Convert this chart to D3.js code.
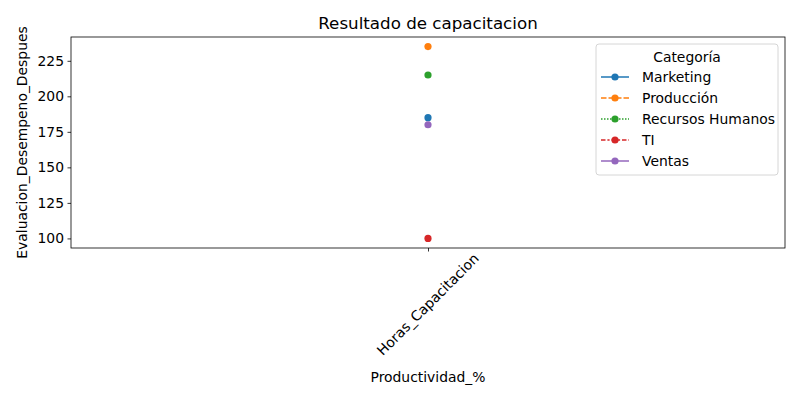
<!DOCTYPE html>
<html>
<head>
<meta charset="utf-8">
<script src="https://cdn.jsdelivr.net/npm/d3@7"></script>
<style>
  body { margin: 0; background: #fff; }
  svg text { font-family: "DejaVu Sans", sans-serif; fill: #000; }
</style>
</head>
<body>
<div id="chart"></div>
<script>
// data
const categories = ["Marketing", "Producción", "Recursos Humanos", "TI", "Ventas"];
const xLabels = ["Horas_Capacitacion"];
const values = [185, 235, 215, 100, 180];
const yTicks = [100, 125, 150, 175, 200, 225];
const colors = ["#1f77b4", "#ff7f0e", "#2ca02c", "#d62728", "#9467bd"];
const dashes = ["", "5.5,2", "1.5,1.5", "4.5,1.9,2.2,1.9", ""];

const W = 800, H = 400;
const margin = {top: 37, right: 15, bottom: 152, left: 71};
const width = W - margin.left - margin.right,
      height = H - margin.top - margin.bottom;

const svg = d3.select("#chart").append("svg")
  .attr("width", W).attr("height", H);

const g = svg.append("g")
  .attr("transform", "translate(" + margin.left + "," + margin.top + ")");

// one category on x, sits in the middle
const x = d3.scalePoint().domain(xLabels).range([0, width]).padding(0.5);

const yMin = d3.min(values), yMax = d3.max(values);
const pad = (yMax - yMin) * 0.05;
const y = d3.scaleLinear().domain([yMin - pad, yMax + pad]).range([height, 0]);

// points
g.selectAll("circle.pt")
  .data(values)
  .enter()
  .append("circle")
  .attr("class", "pt")
  .attr("cx", x(xLabels[0]))
  .attr("cy", function(d) { return y(d); })
  .attr("r", 3.6)
  .attr("fill", function(d, i) { return colors[i]; });

// axes
const yAxis = g.append("g")
  .call(d3.axisLeft(y).tickValues(yTicks).tickSize(3.5).tickPadding(3.5));
yAxis.select(".domain").remove();
yAxis.selectAll("text").style("font-size", "13.9px");
yAxis.selectAll("line").attr("stroke-width", 0.8);

const xAxis = g.append("g")
  .attr("transform", "translate(0," + height + ")")
  .call(d3.axisBottom(x).tickSize(3.5).tickPadding(3.5));
xAxis.select(".domain").remove();
xAxis.selectAll("line").attr("stroke-width", 0.8);
xAxis.selectAll("text")
  .style("font-size", "13.9px")
  .attr("text-anchor", "middle")
  .attr("dy", null)
  .attr("dominant-baseline", "middle")
  .attr("transform", function() {
    return "translate(0,57) rotate(-45)";
  })
  .attr("y", 0);

// frame
g.append("rect")
  .attr("width", width).attr("height", height)
  .attr("fill", "none").attr("stroke", "#000").attr("stroke-width", 0.8);

// titles
svg.append("text")
  .attr("x", margin.left + width / 2).attr("y", 29)
  .attr("text-anchor", "middle")
  .style("font-size", "16.7px")
  .text("Resultado de capacitacion");

svg.append("text")
  .attr("x", margin.left + width / 2).attr("y", 382)
  .attr("text-anchor", "middle")
  .style("font-size", "13.9px")
  .text("Productividad_%");

svg.append("text")
  .attr("transform", "translate(27," + (margin.top + height / 2) + ") rotate(-90)")
  .attr("text-anchor", "middle")
  .style("font-size", "13.9px")
  .text("Evaluacion_Desempeno_Despues");

// legend
const lg = svg.append("g").attr("transform", "translate(596,44)");
lg.append("rect")
  .attr("width", 182).attr("height", 131).attr("rx", 3)
  .attr("fill", "#fff").attr("fill-opacity", 0.8)
  .attr("stroke", "#ccc").attr("stroke-width", 0.8);
lg.append("text")
  .attr("x", 91).attr("y", 18)
  .attr("text-anchor", "middle")
  .style("font-size", "13.9px")
  .text("Categoría");

const items = lg.selectAll("g.item")
  .data(categories)
  .enter()
  .append("g")
  .attr("class", "item")
  .attr("transform", function(d, i) { return "translate(0," + (33 + i * 21) + ")"; });

items.append("line")
  .attr("x1", 5).attr("x2", 33)
  .attr("stroke", function(d, i) { return colors[i]; })
  .attr("stroke-width", 1.5)
  .attr("stroke-dasharray", function(d, i) { return dashes[i]; });
items.append("circle")
  .attr("cx", 19).attr("r", 3.6)
  .attr("fill", function(d, i) { return colors[i]; });
items.append("text")
  .attr("x", 46).attr("y", 0)
  .attr("dy", "0.35em")
  .style("font-size", "13.9px")
  .text(function(d) { return d; });
</script>
</body>
</html>
